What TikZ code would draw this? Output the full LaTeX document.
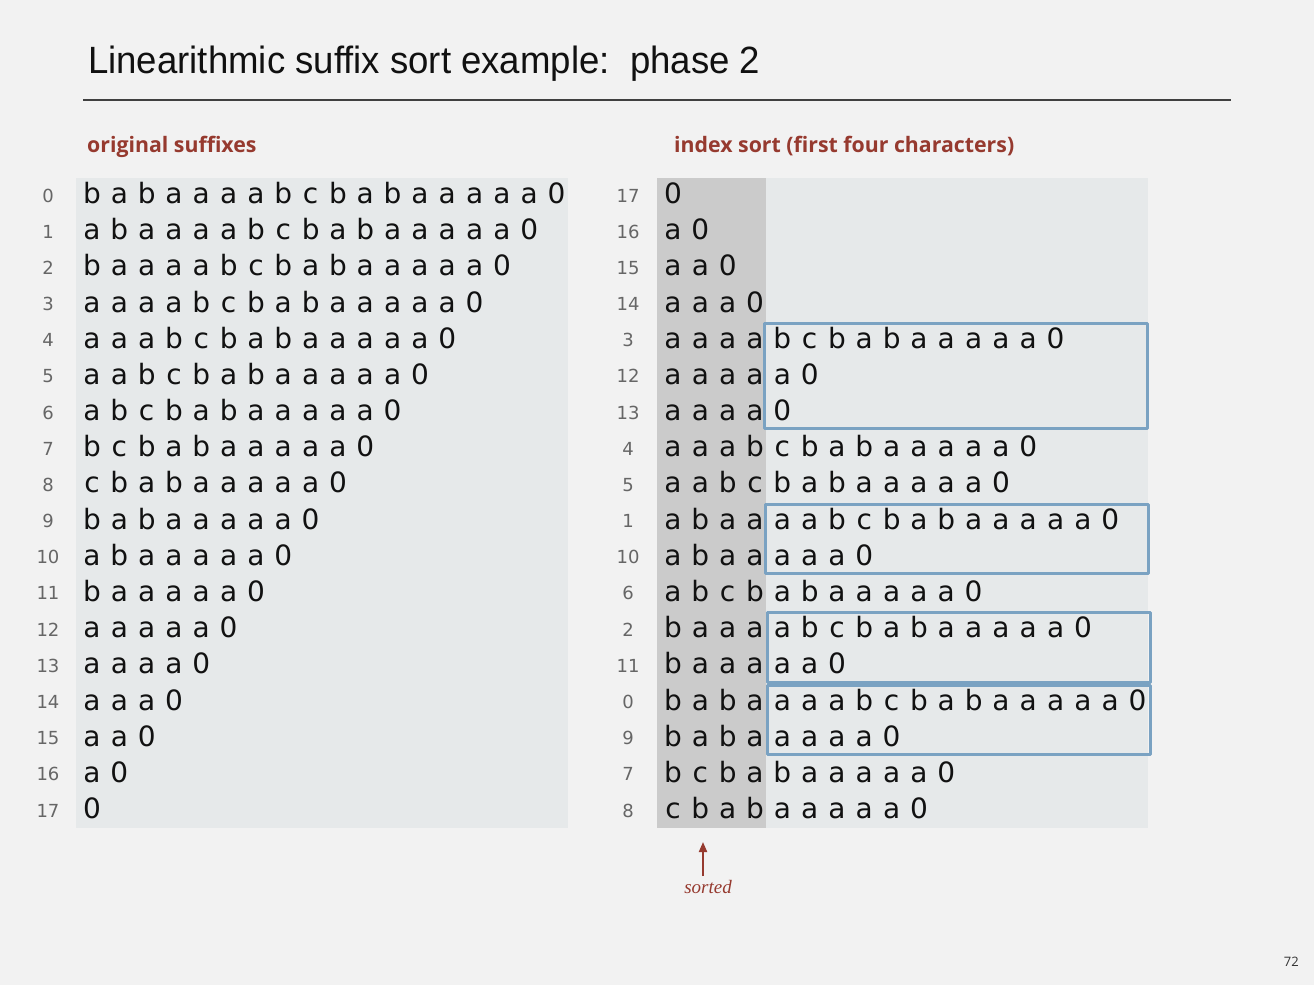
\documentclass[tikz,border=0pt]{standalone}
\usepackage{graphicx}
\usepackage{fontspec}
\setmainfont{DejaVu Sans}
\newfontfamily\headfont{Open Sans}
\newfontfamily\titlefont{Liberation Sans}
\newfontfamily\notefont{Liberation Serif}
\usetikzlibrary{arrows.meta}
\definecolor{bg}{HTML}{F2F2F2}
\definecolor{panel}{HTML}{E6E9EA}
\definecolor{sortcol}{HTML}{CBCBCB}
\definecolor{boxblue}{HTML}{7AA2C2}
\definecolor{darkred}{HTML}{963A2F}
\definecolor{ink}{HTML}{111111}
\definecolor{numgray}{HTML}{666666}
% les suffixes de babaaaabcbabaaaaa0
\newcommand\defsuf[2]{\expandafter\def\csname suf#1\endcsname{#2}}
\defsuf{0}{b,a,b,a,a,a,a,b,c,b,a,b,a,a,a,a,a,0}
\defsuf{1}{a,b,a,a,a,a,b,c,b,a,b,a,a,a,a,a,0}
\defsuf{2}{b,a,a,a,a,b,c,b,a,b,a,a,a,a,a,0}
\defsuf{3}{a,a,a,a,b,c,b,a,b,a,a,a,a,a,0}
\defsuf{4}{a,a,a,b,c,b,a,b,a,a,a,a,a,0}
\defsuf{5}{a,a,b,c,b,a,b,a,a,a,a,a,0}
\defsuf{6}{a,b,c,b,a,b,a,a,a,a,a,0}
\defsuf{7}{b,c,b,a,b,a,a,a,a,a,0}
\defsuf{8}{c,b,a,b,a,a,a,a,a,0}
\defsuf{9}{b,a,b,a,a,a,a,a,0}
\defsuf{10}{a,b,a,a,a,a,a,0}
\defsuf{11}{b,a,a,a,a,a,0}
\defsuf{12}{a,a,a,a,a,0}
\defsuf{13}{a,a,a,a,0}
\defsuf{14}{a,a,a,0}
\defsuf{15}{a,a,0}
\defsuf{16}{a,0}
\defsuf{17}{0}
\begin{document}
\begin{tikzpicture}[x=1pt, y=-1pt, >={Stealth[inset=0pt,length=10pt,width=8pt]}, line join=round,
	chr/.style={anchor=base, inner sep=0pt, text=ink, font=\fontsize{28}{28}\selectfont},
	idx/.style={anchor=base, inner sep=0pt, text=numgray, font=\fontsize{18}{18}\selectfont},
	head/.style={anchor=base west, inner sep=0pt, text=darkred, font=\headfont\bfseries\fontsize{21.3}{21.3}\selectfont},
	sel/.style={draw=boxblue, line width=3pt}]
	\def\dy{36.18} \def\yb{203.5} \def\dx{27.33}
	%Fond et cadre
	\fill[bg] (0,0) rectangle (1314,985);
	\useasboundingbox (0,0) rectangle (1314,985);
	%Titre
	\node[anchor=base west, inner sep=0pt, text=ink] (title) at (88,73)
		{\resizebox{672pt}{\height}{\titlefont\fontsize{38}{38}\selectfont Linearithmic suffix sort example:\ \ phase 2}};
	\draw[line width=1.5pt, black!75] (83,100) -- (1231,100);
	%En-tetes
	\node[head] (hleft) at (87,152) {original suffixes};
	\node[head] (hright) at (674,152) {index sort (first four characters)};
	%Panneaux
	\fill[panel] (76,178) rectangle (568,828);
	\fill[panel] (766,178) rectangle (1148,828);
	\fill[sortcol] (657,178) rectangle (766,828);
	%Suffixes d'origine
	\foreach \i in {0,...,17}{
		\node[idx] (ln\i) at (48,{\yb+\i*\dy-1.5}) {\i};
		\expandafter\let\expandafter\s\csname suf\i\endcsname
		\foreach \c [count=\k] in \s
			\node[chr] (l\i-\k) at ({92+(\k-1)*\dx},{\yb+\i*\dy}) {\c};
	}
	%Tri par index
	\foreach \i [count=\r from 0] in {17,16,15,14,3,12,13,4,5,1,10,6,2,11,0,9,7,8}{
		\node[idx] (rn\r) at (628,{\yb+\r*\dy-1.5}) {\i};
		\expandafter\let\expandafter\s\csname suf\i\endcsname
		\foreach \c [count=\k] in \s
			\node[chr] (r\r-\k) at ({673+(\k-1)*\dx},{\yb+\r*\dy}) {\c};
	}
	%Groupes a trier
	\foreach \a/\b/\xl/\xr in {4/6/764/1147, 9/10/765/1148, 12/13/767/1150, 14/15/767/1150}
		\draw[sel] (\xl,{\yb-9.3+\a*\dy-15.5}) rectangle (\xr,{\yb-9.3+\b*\dy+17.5});
	%Fleche
	\node[anchor=base, inner sep=0pt, text=darkred, font=\notefont\itshape\fontsize{19}{19}\selectfont] (srt) at (708,893) {sorted};
	\coordinate (tail) at (703,876);
	\coordinate (tip) at (703,842);
	\draw[->, darkred, line width=2pt] (tail) -- (tip);
	%Numero de page
	\node[anchor=base east, inner sep=0pt, text=black!80, font=\headfont\fontsize{13}{13}\selectfont] (pg) at (1299,966) {72};
\end{tikzpicture}
\end{document}
